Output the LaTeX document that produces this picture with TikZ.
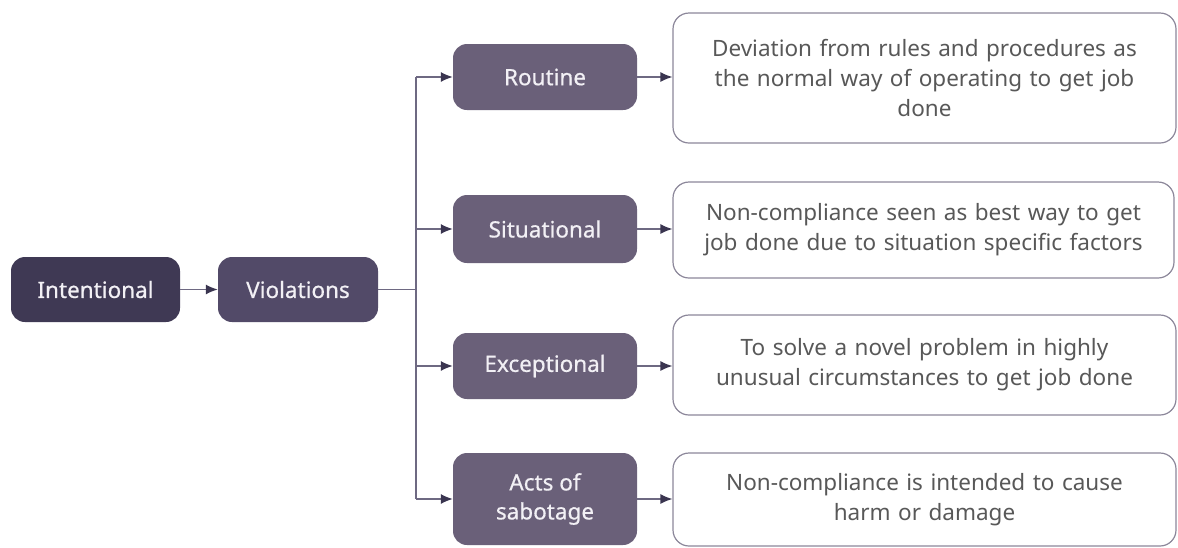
\documentclass[tikz,border=0pt]{standalone}
\usepackage{fontspec}
\setmainfont{Noto Sans}
\usetikzlibrary{arrows.meta}
\definecolor{cIntent}{HTML}{3F3954}
\definecolor{cViol}{HTML}{524A68}
\definecolor{cSub}{HTML}{6A6079}
\definecolor{cLine}{HTML}{6E6982}
\definecolor{cTip}{HTML}{3A3550}
\definecolor{cBorder}{HTML}{8C879A}
\definecolor{cText}{HTML}{585858}
\definecolor{cWhite}{HTML}{F2F0F5}
\tikzset{
  darkbox/.style={draw=none, rounded corners=14pt, text=cWhite, align=center,
    font=\fontsize{22.5}{29}\selectfont\addfontfeature{FakeBold=0.6}, inner sep=2pt},
  descbox/.style={draw=cBorder, line width=1.2pt, rounded corners=16pt, fill=white,
    text=cText, align=center, font=\fontsize{22.5}{30}\selectfont, inner sep=2pt},
  conn/.style={draw=cLine, line width=1.3pt},
  arr/.style={conn, -{Latex[length=12pt,width=10pt,color=cTip]}},
}
\begin{document}
\begin{tikzpicture}[x=1pt,y=-1pt]
\useasboundingbox (0,0) rectangle (1178,547);
\node[darkbox, fill=cIntent, minimum width=169pt, minimum height=65pt] (int) at (95.5,289.5) {Intentional};
\node[darkbox, fill=cViol, minimum width=160pt, minimum height=65pt] (viol) at (298,289.5) {Violations};
\node[darkbox, fill=cSub, minimum width=184pt, minimum height=66pt] (rout) at (545,77) {Routine};
\node[darkbox, fill=cSub, minimum width=184pt, minimum height=68pt] (sit) at (545,229) {Situational};
\node[darkbox, fill=cSub, minimum width=184pt, minimum height=66pt] (exc) at (545,366) {Exceptional};
\node[darkbox, fill=cSub, minimum width=184pt, minimum height=92pt] (acts) at (545,499) {Acts of\\sabotage};
\node[descbox, minimum width=503pt, minimum height=130pt, text width=495pt] (d1) at (924.5,78)
  {Deviation from rules and procedures as\\the normal way of operating to get job\\done};
\node[descbox, minimum width=501pt, minimum height=96pt, text width=495pt] (d2) at (923.5,230)
  {Non-compliance seen as best way to get\\job done due to situation specific factors};
\node[descbox, minimum width=503pt, minimum height=100pt, text width=495pt] (d3) at (924.5,365)
  {To solve a novel problem in highly\\unusual circumstances to get job done};
\node[descbox, minimum width=503pt, minimum height=93pt, text width=495pt] (d4) at (924.5,499.5)
  {Non-compliance is intended to cause\\harm or damage};
\coordinate (tr) at (416,289.5);
\coordinate (t1) at (416,77);
\coordinate (t2) at (416,229);
\coordinate (t3) at (416,366);
\coordinate (t4) at (416,499);
\draw[arr] (int) -- (viol);
\draw[conn] (viol.east) -- (tr);
\draw[conn] (t1) -- (t4);
\draw[arr] (t1) -- (rout.west);
\draw[arr] (t2) -- (sit.west);
\draw[arr] (t3) -- (exc.west);
\draw[arr] (t4) -- (acts.west);
\draw[arr] (rout.east) -- (rout.east -| d1.west);
\draw[arr] (sit.east) -- (sit.east -| d2.west);
\draw[arr] (exc.east) -- (exc.east -| d3.west);
\draw[arr] (acts.east) -- (acts.east -| d4.west);
\end{tikzpicture}
\end{document}
